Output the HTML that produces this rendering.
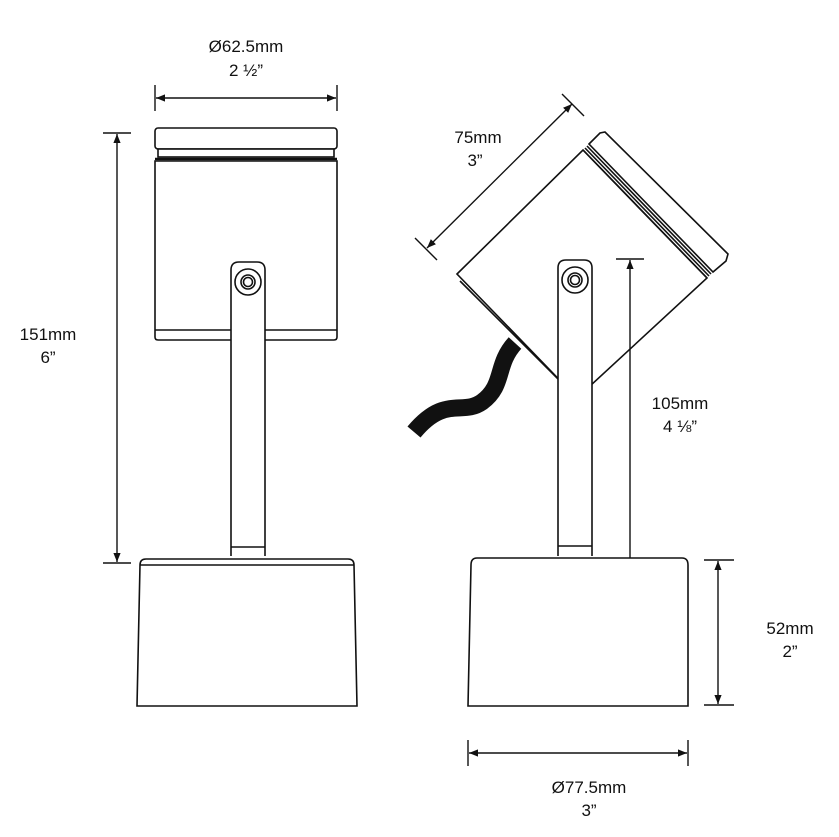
<!DOCTYPE html>
<html><head><style>
html,body{margin:0;padding:0;background:#fff;}
svg{display:block;}
text{font-family:"Liberation Sans",sans-serif;font-size:17px;fill:#111;text-anchor:middle;}
</style></head><body>
<svg width="839" height="837" viewBox="0 0 839 837" xmlns="http://www.w3.org/2000/svg">
<defs>
<marker id="a" viewBox="0 0 10 10" refX="10" refY="5" markerWidth="9" markerHeight="9" orient="auto-start-reverse" markerUnits="userSpaceOnUse"><path d="M0,1 L10,5 L0,9 z" fill="#111"/></marker>
</defs>
<g fill="#fff" stroke="#111" stroke-width="1.6">
<!-- LEFT fixture -->
<rect x="155" y="128" width="182" height="21" rx="3"/>
<rect x="158" y="149" width="176" height="8"/>
<path d="M155,161 L155,337 Q155,340 158,340 L334,340 Q337,340 337,337 L337,161 Z"/>
<line x1="155" y1="159" x2="337" y2="159" stroke-width="2.4"/>
<line x1="155" y1="330" x2="337" y2="330"/>
<path d="M231,556 L231,270 Q231,262 239,262 L257,262 Q265,262 265,270 L265,556"/>
<line x1="231" y1="547" x2="265" y2="547"/>
<circle cx="248" cy="282" r="13"/>
<circle cx="248" cy="282" r="7"/>
<circle cx="248" cy="282" r="4.5"/>
<path d="M140,565 Q140,559 146,559 L348,559 Q354,559 354,565 L357,706 L137,706 Z"/>
<line x1="140" y1="565" x2="354" y2="565"/>

<!-- RIGHT fixture -->
<path d="M515,343 C495,365 505,385 482,402 C462,416 445,395 414,432" fill="none" stroke="#111" stroke-width="17"/>
<polygon points="457,274 583,150 707,278 577,398"/>
<line x1="460" y1="281" x2="577" y2="398"/>
<polygon points="589,144 600,133 605,132 728,254 726,261 713,272"/>
<line x1="583" y1="150" x2="707" y2="278"/>
<line x1="585" y1="148" x2="709" y2="276"/>
<line x1="587" y1="146" x2="711" y2="274"/>
<path d="M558,556 L558,268 Q558,260 566,260 L584,260 Q592,260 592,268 L592,556"/>
<line x1="558" y1="546" x2="592" y2="546"/>
<circle cx="575" cy="280" r="13"/>
<circle cx="575" cy="280" r="7"/>
<circle cx="575" cy="280" r="4.5"/>
<path d="M471,565 Q471,558 477,558 L682,558 Q688,558 688,565 L688,706 L468,706 Z"/>
</g>

<!-- dimensions -->
<g stroke="#111" stroke-width="1.4" fill="none">
<line x1="155" y1="85" x2="155" y2="111"/><line x1="337" y1="85" x2="337" y2="111"/>
<line x1="156" y1="98" x2="336" y2="98" marker-start="url(#a)" marker-end="url(#a)"/>
<line x1="103" y1="133" x2="131" y2="133"/><line x1="103" y1="563" x2="131" y2="563"/>
<line x1="117" y1="134" x2="117" y2="562" marker-start="url(#a)" marker-end="url(#a)"/>
<line x1="415" y1="238" x2="437" y2="260"/><line x1="562" y1="94" x2="584" y2="116"/>
<line x1="427" y1="248" x2="572" y2="104" marker-start="url(#a)" marker-end="url(#a)"/>
<line x1="616" y1="259" x2="644" y2="259"/>
<line x1="630" y1="260" x2="630" y2="558" marker-start="url(#a)"/>
<line x1="704" y1="560" x2="734" y2="560"/><line x1="704" y1="705" x2="734" y2="705"/>
<line x1="718" y1="561" x2="718" y2="704" marker-start="url(#a)" marker-end="url(#a)"/>
<line x1="468" y1="740" x2="468" y2="766"/><line x1="688" y1="740" x2="688" y2="766"/>
<line x1="469" y1="753" x2="687" y2="753" marker-start="url(#a)" marker-end="url(#a)"/>
</g>
<text x="246" y="52">Ø62.5mm</text><text x="246" y="76">2 ½”</text>
<text x="48" y="340">151mm</text><text x="48" y="363">6”</text>
<text x="478" y="143">75mm</text><text x="475" y="166">3”</text>
<text x="680" y="409">105mm</text><text x="680" y="432">4 ⅛”</text>
<text x="790" y="634">52mm</text><text x="790" y="657">2”</text>
<text x="589" y="793">Ø77.5mm</text><text x="589" y="816">3”</text>
</svg>
</body></html>
